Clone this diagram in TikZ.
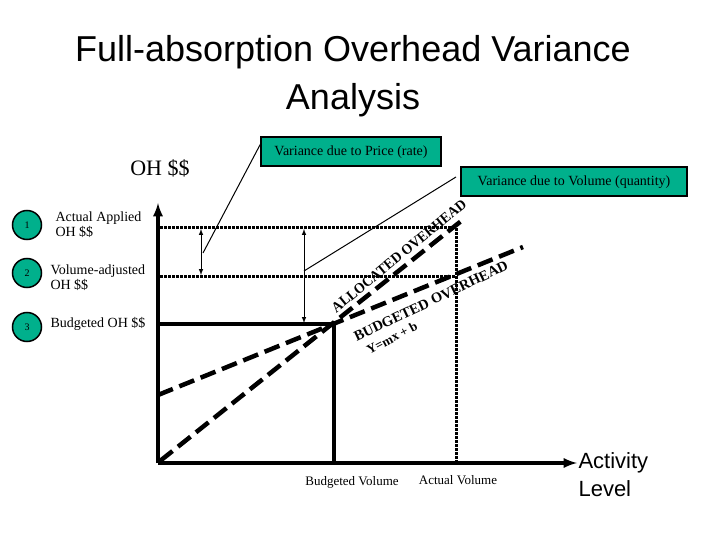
\documentclass[tikz,border=0pt]{standalone}
\usepackage{fontspec}
\setmainfont{Liberation Serif}
\newfontfamily\arial{Liberation Sans}
\begin{document}
\begin{tikzpicture}[x=1pt,y=-1pt,
  axis/.style={line width=3.5pt},
  dotln/.style={line width=3pt,dash pattern=on 2.5pt off 1.5pt},
  bigdash/.style={line width=4.5pt,dash pattern=on 16pt off 7pt},
  circ/.style={circle,draw=black,line width=1.5pt,minimum size=29pt,inner sep=0pt,font=\fontsize{10}{12}\selectfont},
  lab/.style={font=\fontsize{14}{15}\selectfont,anchor=west,align=left},
  vbox/.style={draw=black,line width=2pt,font=\fontsize{14}{15}\selectfont,inner sep=0pt,minimum height=29pt},
  rot/.style={font=\bfseries\fontsize{14.5}{16}\selectfont}
]
\definecolor{tealg}{RGB}{0,176,140}
\tikzset{circ/.append style={fill=tealg},vbox/.append style={fill=tealg}}
\useasboundingbox (0,0) rectangle (720,540);
\node[font=\arial\fontsize{36}{48}\selectfont,align=center] (title) at (353,76) {Full-absorption Overhead Variance\\Analysis};
\node[font=\fontsize{22}{24}\selectfont] (ohy) at (160,168) {OH \$\$};
\coordinate (O) at (158,463);
\coordinate (Ytop) at (158,203);
\coordinate (Xend) at (577,463);
\draw[axis,-latex] (O) -- (Ytop);
\draw[axis,-latex] (O) -- (Xend);
\node[font=\arial\fontsize{22}{28}\selectfont,align=left,anchor=west] (act) at (575,475) {Activity\\Level};
% dotted
\coordinate (d1a) at (160,228); \coordinate (d1b) at (456,228);
\coordinate (d2a) at (160,276); \coordinate (d2b) at (456,276);
\coordinate (d3) at (456,463);
\draw[dotln] (d1a) -- (d1b) -- (d3);
\draw[dotln] (d2a) -- (d2b);
% budgeted
\coordinate (b1) at (158,324); \coordinate (bv) at (334,324); \coordinate (bvx) at (334,463);
\draw[axis] (b1) -- (bv) -- (bvx);
% dashed lines
\coordinate (a0) at (160,461); \coordinate (a1) at (465,218);
\coordinate (c0) at (158,395); \coordinate (c1) at (523,247);
\draw[bigdash] (a0) -- (a1);
\draw[bigdash] (c0) -- (c1);
% arrows
\coordinate (p1) at (201,229); \coordinate (p2) at (201,275);
\coordinate (q1) at (304,229); \coordinate (q2) at (304,323);
\draw[line width=1pt,latex-latex] (p1) -- (p2);
\draw[line width=1pt,latex-latex] (q1) -- (q2);
% boxes
\node[vbox,minimum width=180pt] (price) at (351,152) {Variance due to Price (rate)};
\node[vbox,minimum width=226pt] (vol) at (574,182) {Variance due to Volume (quantity)};
\coordinate (pc) at (203,253); \coordinate (pe) at (261,143);
\coordinate (qc) at (304,271); \coordinate (qe) at (456,177);
\draw[line width=1pt] (pc) -- (pe);
\draw[line width=1pt] (qc) -- (qe);
% circles
\node[circ] (c1n) at (27,225) {1};
\node[circ] (c2n) at (27,273) {2};
\node[circ] (c3n) at (27,327) {3};
\node[lab] (l1) at (52,225) {Actual Applied\\OH \$\$};
\node[lab] (l2) at (47,278) {Volume-adjusted\\OH \$\$};
\node[lab] (l3) at (47,324) {Budgeted OH \$\$};
% rotated
\node[rot,rotate=39.3,xscale=0.95] (alloc) at (399,256) {ALLOCATED OVERHEAD};
\node[rot,rotate=25.5] (budg) at (431,301) {BUDGETED OVERHEAD};
\node[rot,rotate=28,font=\bfseries\fontsize{13}{14}\selectfont] (ymx) at (392,338) {Y=mx + b};
\node[font=\fontsize{13}{14}\selectfont] (bvl) at (352,482) {Budgeted Volume};
\node[font=\fontsize{13}{14}\selectfont] (avl) at (458,480) {Actual Volume};
\end{tikzpicture}
\end{document}
